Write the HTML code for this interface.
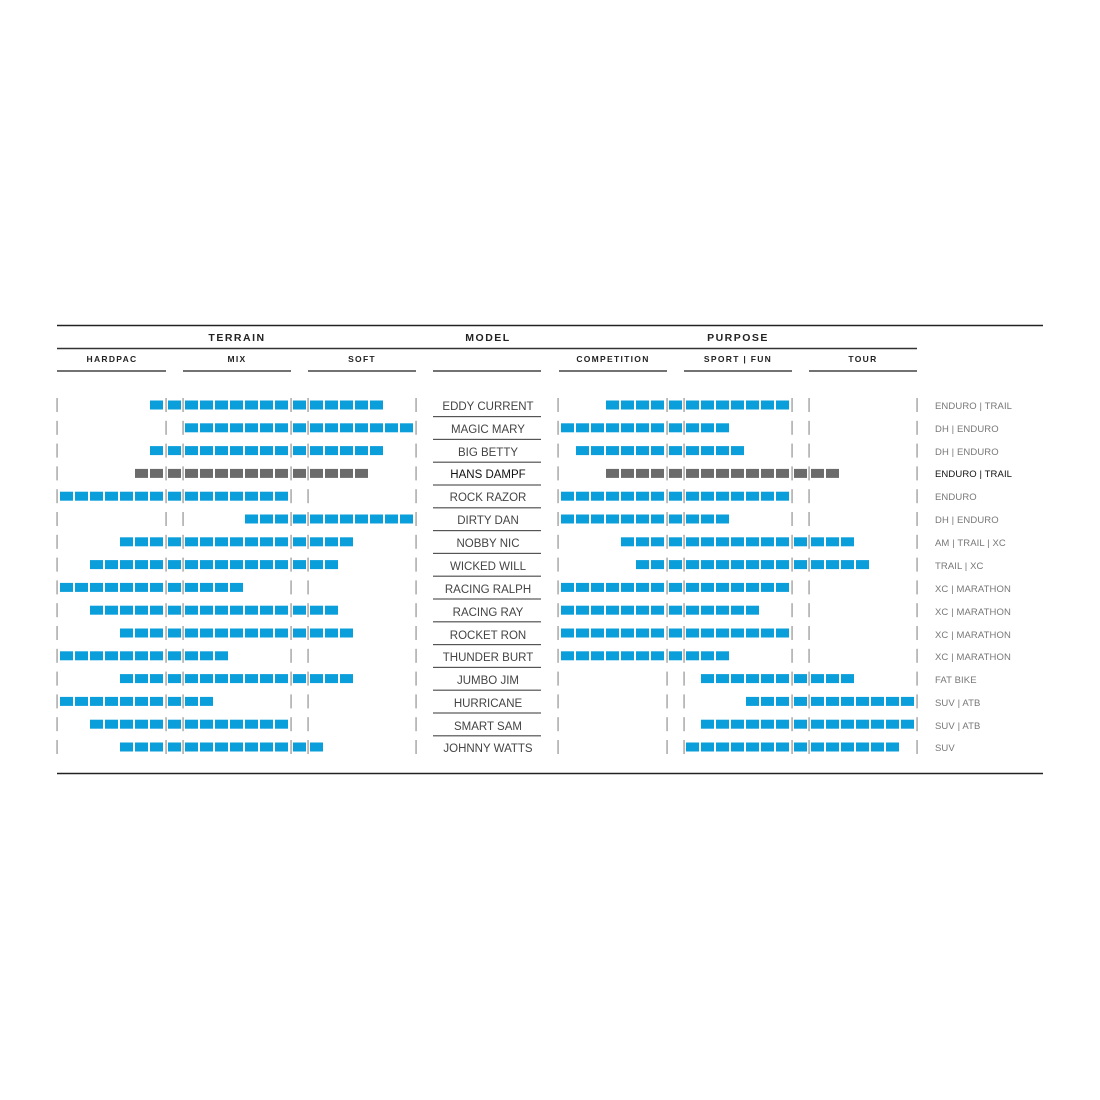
<!DOCTYPE html>
<html><head><meta charset="utf-8"><style>
html,body{margin:0;padding:0;background:#fff;}
svg{display:block}
.h{font-family:"Liberation Sans",sans-serif;font-weight:bold;fill:#222;}
.m{font-family:"Liberation Sans",sans-serif;font-size:11.5px;fill:#444;letter-spacing:0px;}
.r{font-family:"Liberation Sans",sans-serif;font-size:9.5px;fill:#777;letter-spacing:0.1px;}
</style></head><body>
<svg id="s" width="1100" height="1100" viewBox="0 0 1100 1100" xmlns="http://www.w3.org/2000/svg">
<line x1="57" y1="325.5" x2="1043" y2="325.5" stroke="#222" stroke-width="1.5"/>
<line x1="57" y1="348.5" x2="917" y2="348.5" stroke="#333" stroke-width="1.5"/>
<line x1="57" y1="773.5" x2="1043" y2="773.5" stroke="#222" stroke-width="1.5"/>
<g stroke="#444" stroke-width="1.5">
<line x1="57" y1="371" x2="166" y2="371"/><line x1="183" y1="371" x2="291" y2="371"/><line x1="308" y1="371" x2="416" y2="371"/>
<line x1="433" y1="371" x2="541" y2="371"/><line x1="559" y1="371" x2="667" y2="371"/><line x1="684" y1="371" x2="792" y2="371"/><line x1="809" y1="371" x2="917" y2="371"/>
</g>
<g class="h" font-size="10.5" text-anchor="middle" letter-spacing="1.5">
<text x="237" y="341">TERRAIN</text><text x="488" y="341">MODEL</text><text x="738" y="341">PURPOSE</text>
</g>
<g class="h" font-size="8.5" text-anchor="middle" letter-spacing="1.3">
<text x="112" y="362">HARDPAC</text><text x="237" y="362">MIX</text><text x="362" y="362">SOFT</text>
<text x="613" y="362">COMPETITION</text><text x="738" y="362">SPORT | FUN</text><text x="863" y="362">TOUR</text>
</g>
<g class="m" text-anchor="middle">
<text x="488" y="410">EDDY CURRENT</text>
<text x="488" y="433">MAGIC MARY</text>
<text x="488" y="456">BIG BETTY</text>
<text x="488" y="478" style="fill:#111">HANS DAMPF</text>
<text x="488" y="501">ROCK RAZOR</text>
<text x="488" y="524">DIRTY DAN</text>
<text x="488" y="547">NOBBY NIC</text>
<text x="488" y="570">WICKED WILL</text>
<text x="488" y="593">RACING RALPH</text>
<text x="488" y="616">RACING RAY</text>
<text x="488" y="639">ROCKET RON</text>
<text x="488" y="661">THUNDER BURT</text>
<text x="488" y="684">JUMBO JIM</text>
<text x="488" y="707">HURRICANE</text>
<text x="488" y="730">SMART SAM</text>
<text x="488" y="752">JOHNNY WATTS</text>
</g>
<g class="r">
<text x="935" y="409">ENDURO | TRAIL</text>
<text x="935" y="432">DH | ENDURO</text>
<text x="935" y="455">DH | ENDURO</text>
<text x="935" y="477" style="fill:#111">ENDURO | TRAIL</text>
<text x="935" y="500">ENDURO</text>
<text x="935" y="523">DH | ENDURO</text>
<text x="935" y="546">AM | TRAIL | XC</text>
<text x="935" y="569">TRAIL | XC</text>
<text x="935" y="592">XC | MARATHON</text>
<text x="935" y="615">XC | MARATHON</text>
<text x="935" y="638">XC | MARATHON</text>
<text x="935" y="660">XC | MARATHON</text>
<text x="935" y="683">FAT BIKE</text>
<text x="935" y="706">SUV | ATB</text>
<text x="935" y="729">SUV | ATB</text>
<text x="935" y="751">SUV</text>
</g>
<g id="g"></g>
</svg>
<script>
var data=[[6,20,3,14],[8,22,0,10],[6,20,1,11],[5,19,3,17],[0,14,0,14],[12,22,0,10],[4,18,4,18],[2,17,5,19],[0,11,0,14],[2,17,0,12],[4,18,0,14],[0,10,0,10],[4,18,9,18],[0,9,12,22],[2,14,9,22],[4,16,8,21]];
function sx(b,i){if(i<7)return b+3+15*i;if(i==7)return b+111;if(i<15)return b+128+15*(i-8);if(i==15)return b+236;return b+253+15*(i-16);}
var out='';
for(var r=0;r<16;r++){
 var cy=405+r*22.8, col=r==3?'#6b6b6b':'#0a9fda', d=data[r];
 [[57,d[0],d[1]],[558,d[2],d[3]]].forEach(function(p){
  var b=p[0];
  [0,109,126,234,251,359].forEach(function(o){out+='<rect x="'+(b+o-0.5)+'" y="'+(cy-7)+'" width="1.1" height="14" fill="#888"/>';});
  for(var i=p[1];i<=p[2];i++)out+='<rect x="'+sx(b,i)+'" y="'+(cy-4.5)+'" width="13" height="9" fill="'+col+'"/>';
 });
 if(r<15)out+='<rect x="433" y="'+(cy+11)+'" width="108" height="1.2" fill="#555"/>';
}
document.getElementById('g').innerHTML=out;
</script>
</body></html>
